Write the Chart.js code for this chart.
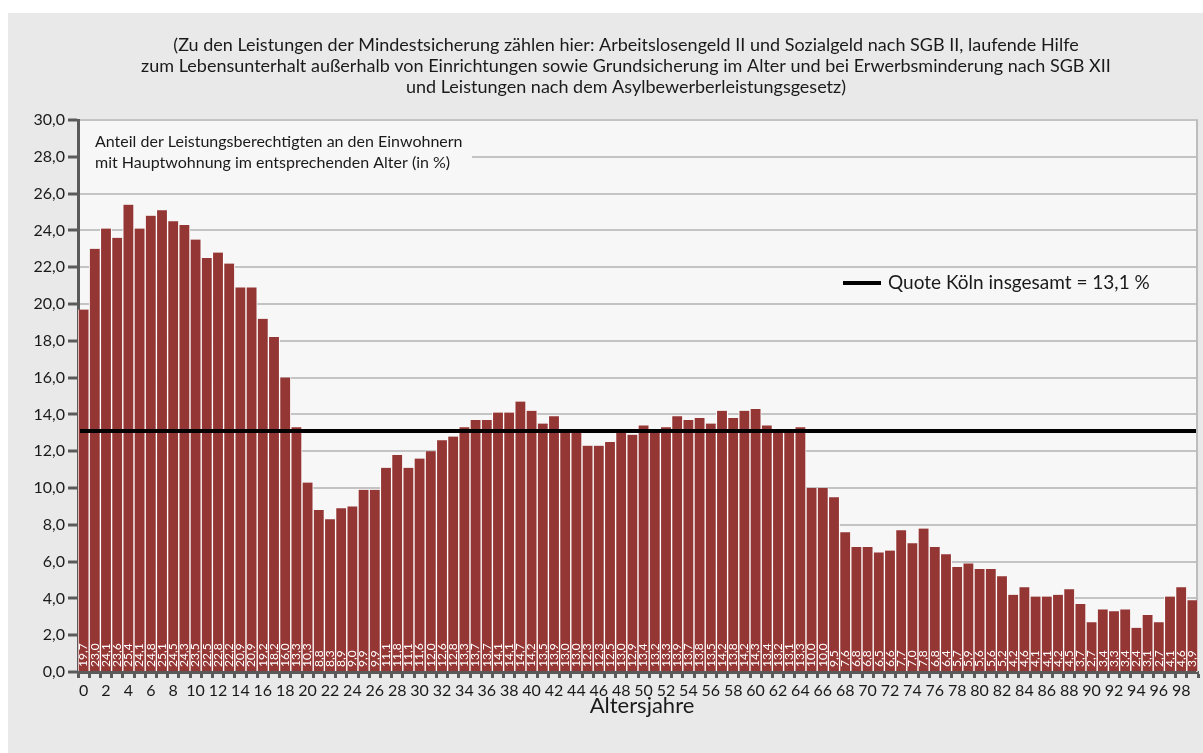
<!DOCTYPE html>
<html>
<head>
<meta charset="utf-8">
<script src="https://cdn.jsdelivr.net/npm/chart.js@4.4.0/dist/chart.umd.min.js"></script>
<style>
html, body { margin: 0; padding: 0; background: #fff; }
#wrap { position: absolute; left: 8px; top: 13px; width: 1195px; height: 740px; background: #e9e9e9; }
canvas { display: block; }
</style>
</head>
<body>
<div id="wrap"><canvas id="chart" width="1195" height="740"></canvas></div>
<script>
const ages = [0, 1, 2, 3, 4, 5, 6, 7, 8, 9, 10, 11, 12, 13, 14, 15, 16, 17, 18, 19,
    20, 21, 22, 23, 24, 25, 26, 27, 28, 29, 30, 31, 32, 33, 34, 35, 36, 37, 38, 39,
    40, 41, 42, 43, 44, 45, 46, 47, 48, 49, 50, 51, 52, 53, 54, 55, 56, 57, 58, 59,
    60, 61, 62, 63, 64, 65, 66, 67, 68, 69, 70, 71, 72, 73, 74, 75, 76, 77, 78, 79,
    80, 81, 82, 83, 84, 85, 86, 87, 88, 89, 90, 91, 92, 93, 94, 95, 96, 97, 98, 99];

const quote = [19.7, 23.0, 24.1, 23.6, 25.4, 24.1, 24.8, 25.1, 24.5, 24.3,
    23.5, 22.5, 22.8, 22.2, 20.9, 20.9, 19.2, 18.2, 16.0, 13.3,
    10.3, 8.8, 8.3, 8.9, 9.0, 9.9, 9.9, 11.1, 11.8, 11.1,
    11.6, 12.0, 12.6, 12.8, 13.3, 13.7, 13.7, 14.1, 14.1, 14.7,
    14.2, 13.5, 13.9, 13.0, 13.0, 12.3, 12.3, 12.5, 13.0, 12.9,
    13.4, 13.2, 13.3, 13.9, 13.7, 13.8, 13.5, 14.2, 13.8, 14.2,
    14.3, 13.4, 13.2, 13.1, 13.3, 10.0, 10.0, 9.5, 7.6, 6.8,
    6.8, 6.5, 6.6, 7.7, 7.0, 7.8, 6.8, 6.4, 5.7, 5.9,
    5.6, 5.6, 5.2, 4.2, 4.6, 4.1, 4.1, 4.2, 4.5, 3.7,
    2.7, 3.4, 3.3, 3.4, 2.4, 3.1, 2.7, 4.1, 4.6, 3.9];

const quoteGesamt = 13.1;

const titleLines = [
    '(Zu den Leistungen der Mindestsicherung zählen hier: Arbeitslosengeld II und Sozialgeld nach SGB II, laufende Hilfe',
    'zum Lebensunterhalt außerhalb von Einrichtungen sowie Grundsicherung im Alter und bei Erwerbsminderung nach SGB XII',
    'und Leistungen nach dem Asylbewerberleistungsgesetz)'
];
const noteLines = [
    'Anteil der Leistungsberechtigten an den Einwohnern',
    'mit Hauptwohnung im entsprechenden Alter (in %)'
];
const legendText = 'Quote Köln insgesamt = 13,1 %';
const xTitle = 'Altersjahre';

const FONT = 'Lato, "Open Sans", sans-serif';
const comma = v => v.toFixed(1).replace('.', ',');

const decor = {
    id: 'decor',
    beforeDraw(chart) {
        const { ctx, chartArea: a } = chart;
        ctx.save();
        ctx.fillStyle = '#f7f7f7';
        ctx.fillRect(a.left, a.top, a.right - a.left, a.bottom - a.top);
        ctx.restore();
    },
    beforeDatasetsDraw(chart) {
        const { ctx, chartArea: a } = chart;
        ctx.save();
        // right border of plot area
        ctx.strokeStyle = '#bdbdbd';
        ctx.lineWidth = 2;
        ctx.beginPath();
        ctx.moveTo(a.right - 1, a.top);
        ctx.lineTo(a.right - 1, a.bottom);
        ctx.stroke();
        // note box
        ctx.fillStyle = '#f7f7f7';
        ctx.fillRect(a.left + 2, 116, 392, 46);
        ctx.fillStyle = '#1a1a1a';
        ctx.font = '16px ' + FONT;
        ctx.textBaseline = 'middle';
        ctx.fillText(noteLines[0], 87, 129);
        ctx.fillText(noteLines[1], 87, 150);
        ctx.restore();
    },
    afterDatasetsDraw(chart) {
        const { ctx, chartArea: a } = chart;
        const y = chart.scales.y;
        ctx.save();
        // value labels inside bars
        ctx.fillStyle = '#ffffff';
        ctx.font = '12px ' + FONT;
        ctx.textAlign = 'left';
        ctx.textBaseline = 'middle';
        chart.getDatasetMeta(0).data.forEach((bar, i) => {
            ctx.save();
            ctx.translate(bar.x, bar.base - 4);
            ctx.rotate(-Math.PI / 2);
            ctx.fillText(comma(quote[i]), 0, 0);
            ctx.restore();
        });
        // overall quote line
        const yq = y.getPixelForValue(quoteGesamt);
        ctx.strokeStyle = '#000';
        ctx.lineWidth = 4;
        ctx.beginPath();
        ctx.moveTo(a.left + 2, yq);
        ctx.lineTo(a.right - 2, yq);
        ctx.stroke();
        // legend
        ctx.beginPath();
        ctx.moveTo(835, 270);
        ctx.lineTo(873, 270);
        ctx.stroke();
        ctx.fillStyle = '#1a1a1a';
        ctx.font = '19px ' + FONT;
        ctx.fillText(legendText, 880, 270);
        ctx.restore();
    },
    afterDraw(chart) {
        const { ctx } = chart;
        ctx.save();
        ctx.fillStyle = '#1a1a1a';
        ctx.textAlign = 'center';
        ctx.textBaseline = 'middle';
        ctx.font = '18px ' + FONT;
        titleLines.forEach((t, i) => ctx.fillText(t, 618, 32 + i * 21));
        ctx.font = '22px ' + FONT;
        ctx.fillText(xTitle, 634, 693);
        ctx.restore();
    }
};

new Chart(document.getElementById('chart').getContext('2d'), {
    type: 'bar',
    data: {
        labels: ages,
        datasets: [{
            label: 'Anteil',
            data: quote,
            backgroundColor: '#943634',
            borderColor: '#ffffff',
            borderWidth: { left: 1, right: 1, top: 0, bottom: 0 },
            borderSkipped: false,
            barPercentage: 1,
            categoryPercentage: 1
        }]
    },
    options: {
        responsive: false,
        animation: false,
        layout: { padding: { top: 107, right: 5, left: 0, bottom: 0 } },
        plugins: {
            legend: { display: false },
            tooltip: { enabled: false }
        },
        scales: {
            x: {
                afterFit: s => { s.height = 81; },
                grid: {
                    drawOnChartArea: false,
                    drawTicks: true,
                    tickLength: 6,
                    tickWidth: 3,
                    tickColor: '#5a5a5a'
                },
                border: { color: '#5a5a5a', width: 3 },
                ticks: {
                    autoSkip: false,
                    maxRotation: 0,
                    padding: 3,
                    color: '#1a1a1a',
                    font: { family: FONT, size: 16 },
                    callback: (v, i) => (i % 2 === 0 ? String(ages[i]) : '')
                }
            },
            y: {
                min: 0,
                max: 30,
                afterFit: s => { s.width = 70; },
                grid: {
                    color: '#c4c4c4',
                    lineWidth: 2,
                    tickLength: 10,
                    tickWidth: 3,
                    tickColor: '#5a5a5a'
                },
                border: { color: '#5a5a5a', width: 3 },
                ticks: {
                    stepSize: 2,
                    padding: 3,
                    color: '#1a1a1a',
                    font: { family: FONT, size: 16 },
                    callback: v => comma(v)
                }
            }
        }
    },
    plugins: [decor]
});
</script>
</body>
</html>
